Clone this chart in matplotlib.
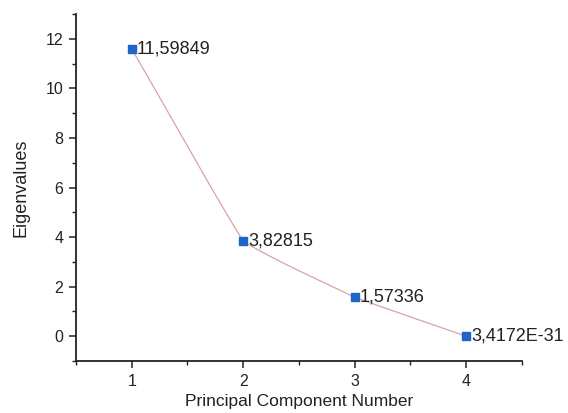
import numpy as np
import matplotlib
matplotlib.use("Agg")
import matplotlib.pyplot as plt
from matplotlib.ticker import MultipleLocator

plt.rcParams['font.family'] = ['Liberation Sans', 'DejaVu Sans']

components = [1, 2, 3, 4]
eigenvalues = [11.59849, 3.82815, 1.57336, 3.4172e-31]
value_labels = ["11,59849", "3,82815", "1,57336", "3,4172E-31"]


def soft_spline(x, y, tension=0.15, n=60):
    """Hermite curve through the points with damped central-difference tangents."""
    x = np.asarray(x, float)
    y = np.asarray(y, float)
    k = len(x)
    slopes = np.empty(k)
    for i in range(k):
        lo, hi = max(i - 1, 0), min(i + 1, k - 1)
        slopes[i] = (y[hi] - y[lo]) / (x[hi] - x[lo])
    seg = np.diff(y) / np.diff(x)
    xs_all, ys_all = [], []
    for i in range(k - 1):
        h = x[i + 1] - x[i]
        m0 = tension * slopes[i] + (1 - tension) * seg[i]
        m1 = tension * slopes[i + 1] + (1 - tension) * seg[i]
        t = np.linspace(0, 1, n)
        h00 = 2 * t**3 - 3 * t**2 + 1
        h10 = t**3 - 2 * t**2 + t
        h01 = -2 * t**3 + 3 * t**2
        h11 = t**3 - t**2
        xs_all.append(x[i] + t * h)
        ys_all.append(h00 * y[i] + h10 * h * m0 + h01 * y[i + 1] + h11 * h * m1)
    return np.concatenate(xs_all), np.concatenate(ys_all)


fig = plt.figure(figsize=(5.68, 4.13), dpi=100)
ax = fig.add_axes([0.1338, 0.1259, 0.785, 0.840])

xs, ys = soft_spline(components, eigenvalues)
ax.plot(xs, ys, color="#d6a3ab", lw=0.9, zorder=2)
ax.plot(components, eigenvalues, ls="none", marker="s", ms=5.5,
        color="#1f64c8", mec="#1f64c8", zorder=3)

for xv, yv, lab in zip(components, eigenvalues, value_labels):
    ax.annotate(lab, (xv, yv), xytext=(3.5, 0), textcoords="offset points",
                ha="left", va="center", fontsize=13, color="#222222")

ax.set_xlim(0.5, 4.5)
ax.set_ylim(-1, 13)
ax.set_xticks(components)
ax.set_yticks([0, 2, 4, 6, 8, 10, 12])
ax.xaxis.set_minor_locator(MultipleLocator(0.5))
ax.yaxis.set_minor_locator(MultipleLocator(1))

for s in ("top", "right"):
    ax.spines[s].set_visible(False)
for s in ("left", "bottom"):
    ax.spines[s].set_linewidth(1.3)
    ax.spines[s].set_color("#222222")

ax.tick_params(which="major", direction="out", length=5, width=1.1,
               labelsize=11.5, colors="#222222", pad=4)
ax.tick_params(which="minor", direction="out", length=3, width=1.0, colors="#222222")

ax.set_xlabel("Principal Component Number", fontsize=12.5, color="#222222", labelpad=4)
ax.set_ylabel("Eigenvalues", fontsize=13, color="#222222", labelpad=12)

fig.savefig("out.png", dpi=100, facecolor="white")
